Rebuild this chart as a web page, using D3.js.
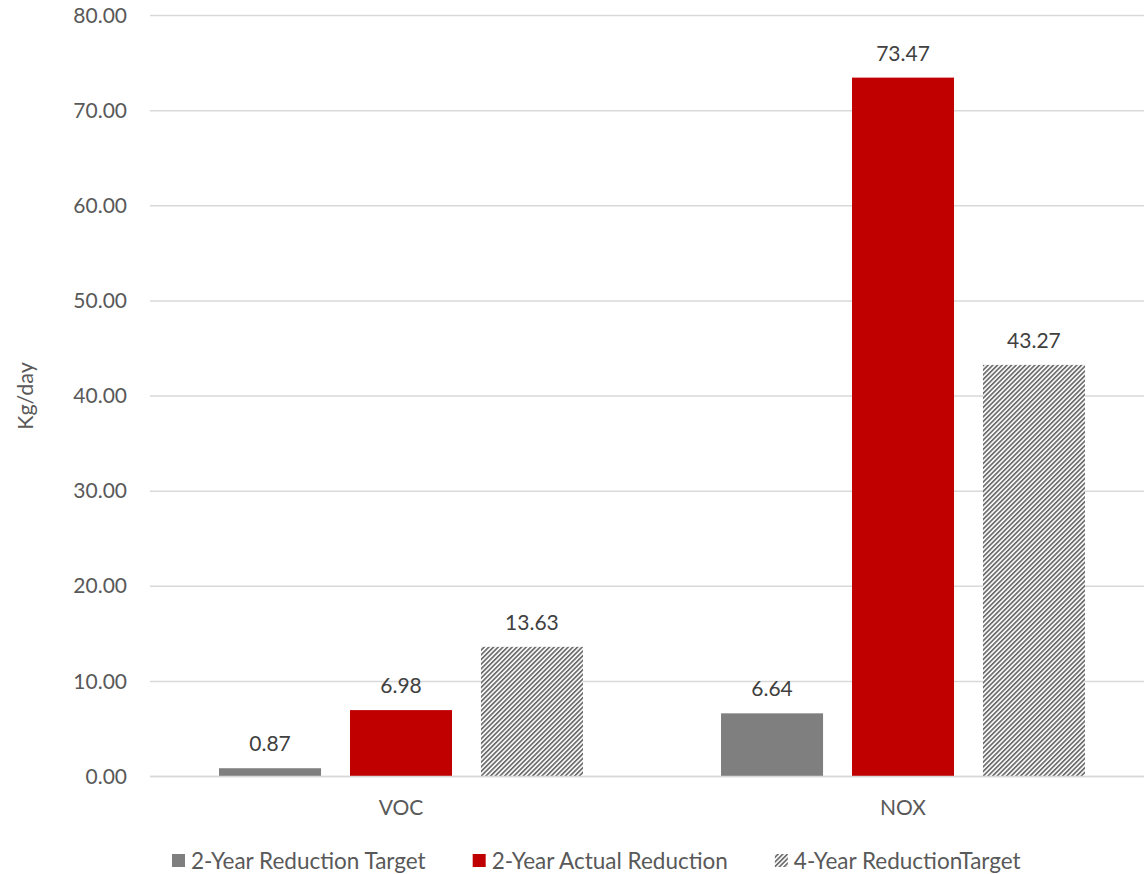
<!DOCTYPE html>
<html>
<head>
<meta charset="utf-8">
<script src="https://cdn.jsdelivr.net/npm/d3@7"></script>
<style>
  html, body { margin: 0; padding: 0; background: #fff; }
  svg { display: block; font-family: Lato, "Open Sans", sans-serif; }
</style>
</head>
<body>
<svg id="chart" width="1144" height="874"></svg>
<script>
// chart data
const categories = ["VOC", "NOX"];
const seriesNames = ["2-Year Reduction Target", "2-Year Actual Reduction", "4-Year ReductionTarget"];
const target2 = [0.87, 6.64];
const actual2 = [6.98, 73.47];
const target4 = [13.63, 43.27];
const yTicks = [0, 10, 20, 30, 40, 50, 60, 70, 80];

const width = 1144, height = 874;
const margin = { top: 15.5, right: -10, bottom: 97.5, left: 150 };
const svg = d3.select("#chart");

// hatch pattern for the 4-year series
const defs = svg.append("defs");
const pat = defs.append("pattern")
    .attr("id", "hatch")
    .attr("patternUnits", "userSpaceOnUse")
    .attr("width", 3.3)
    .attr("height", 3.3)
    .attr("patternTransform", "rotate(45)");
pat.append("rect").attr("width", 3.3).attr("height", 3.3).attr("fill", "#fff");
pat.append("rect").attr("width", 1.75).attr("height", 3.3).attr("fill", "#6f6f6f");

const fills = ["#7f7f7f", "#c00000", "url(#hatch)"];

const rows = categories.map((c, i) => ({
    cat: c,
    vals: [target2[i], actual2[i], target4[i]]
}));

const x0 = d3.scaleBand()
    .domain(categories)
    .range([margin.left, width - margin.right])
    .paddingInner(0)
    .paddingOuter(0);

const x1 = d3.scaleBand()
    .domain(d3.range(seriesNames.length))
    .range([0, x0.bandwidth()])
    .paddingInner(0.221)
    .paddingOuter(0.527);

const y = d3.scaleLinear()
    .domain([0, 80])
    .range([height - margin.bottom, margin.top]);

// gridlines
svg.append("g")
    .selectAll("line")
    .data(yTicks)
    .join("line")
    .attr("x1", margin.left)
    .attr("x2", width)
    .attr("y1", d => y(d))
    .attr("y2", d => y(d))
    .attr("stroke", "#d9d9d9")
    .attr("stroke-width", 1.5);

// y axis labels
const yAxis = svg.append("g")
    .attr("transform", `translate(${margin.left - 23},0)`)
    .call(d3.axisLeft(y).tickValues(yTicks).tickFormat(d3.format(".2f")).tickSize(0).tickPadding(0));
yAxis.select(".domain").remove();
yAxis.selectAll("text")
    .attr("fill", "#595959")
    .style("font-size", "21px")
    .style("font-family", "Lato, sans-serif");

// y axis title
svg.append("text")
    .attr("transform", `translate(33,${(y(0) + y(80)) / 2}) rotate(-90)`)
    .attr("text-anchor", "middle")
    .attr("fill", "#595959")
    .style("font-size", "21.5px")
    .text("Kg/day");

// bars
const groups = svg.append("g")
    .selectAll("g")
    .data(rows)
    .join("g")
    .attr("transform", d => `translate(${x0(d.cat)},0)`);

groups.selectAll("rect")
    .data(d => d.vals.map((v, i) => ({ v, i })))
    .join("rect")
    .attr("x", d => x1(d.i))
    .attr("width", x1.bandwidth())
    .attr("y", d => y(d.v))
    .attr("height", d => y(0) - y(d.v))
    .attr("fill", d => fills[d.i]);

// data labels
groups.selectAll("text")
    .data(d => d.vals.map((v, i) => ({ v, i })))
    .join("text")
    .attr("x", d => x1(d.i) + x1.bandwidth() / 2)
    .attr("y", d => y(d.v) - 17)
    .attr("text-anchor", "middle")
    .attr("fill", "#404040")
    .style("font-size", "21px")
    .text(d => d3.format(".2f")(d.v));

// baseline
svg.append("line")
    .attr("x1", margin.left)
    .attr("x2", width)
    .attr("y1", y(0))
    .attr("y2", y(0))
    .attr("stroke", "#d9d9d9")
    .attr("stroke-width", 1.5);

// category labels
svg.append("g")
    .selectAll("text")
    .data(categories)
    .join("text")
    .attr("x", d => x0(d) + x0.bandwidth() / 2)
    .attr("y", y(0) + 38)
    .attr("text-anchor", "middle")
    .attr("fill", "#595959")
    .style("font-size", "21px")
    .text(d => d);

// legend
const legend = svg.append("g").attr("transform", "translate(0,861)");
let lx = 172;
seriesNames.forEach((name, i) => {
    legend.append("rect")
        .attr("x", lx)
        .attr("y", -7)
        .attr("width", 13)
        .attr("height", 13)
        .attr("fill", fills[i]);
    const t = legend.append("text")
        .attr("x", lx + 19)
        .attr("y", 0)
        .attr("dy", "0.35em")
        .attr("fill", "#595959")
        .style("font-size", "22.5px")
        .text(name);
    lx += 19 + t.node().getComputedTextLength() + 47;
});
</script>
</body>
</html>
